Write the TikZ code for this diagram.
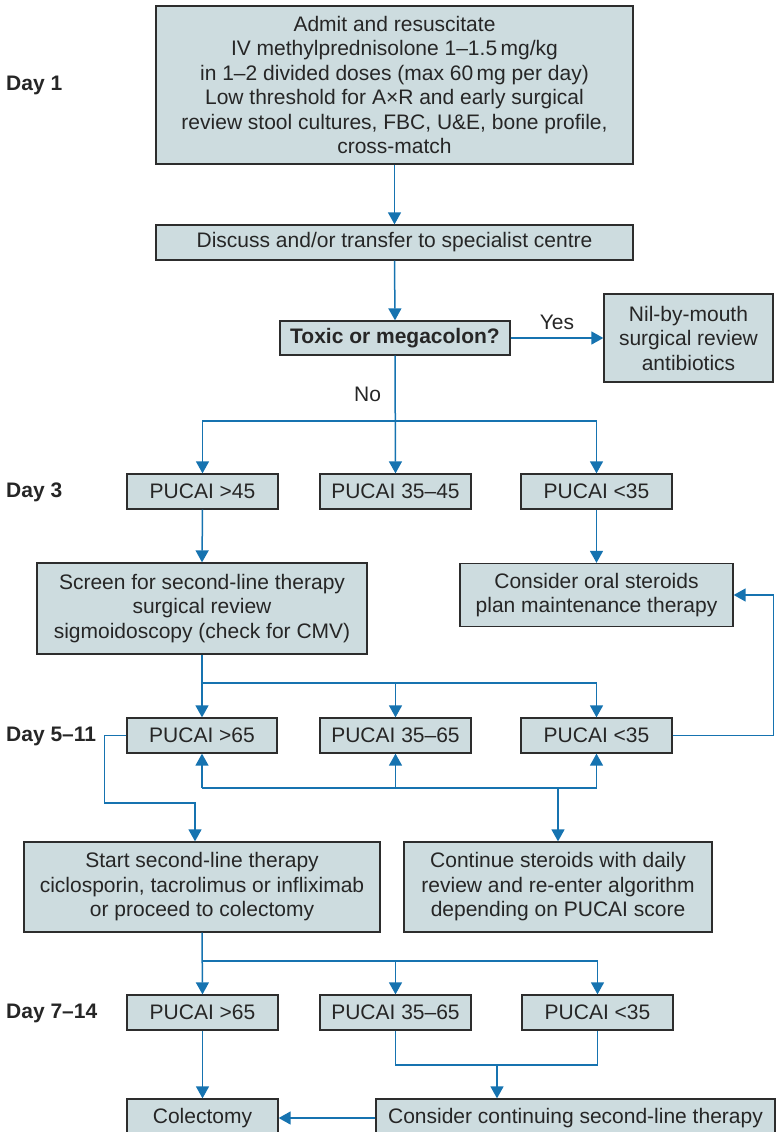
\documentclass[tikz,border=0pt]{standalone}
\usepackage{fontspec}
\setmainfont{Liberation Sans}
\usetikzlibrary{arrows.meta}
\definecolor{boxfill}{RGB}{205,220,223}
\definecolor{boxline}{RGB}{45,45,45}
\definecolor{flow}{RGB}{22,115,176}
\begin{document}
\begin{tikzpicture}[x=1pt,y=-1pt,
  every node/.style={font=\fontsize{21}{24.5}\selectfont, text=black!85},
  box/.style={draw=boxline, line width=1.3pt, fill=boxfill, align=center,
    inner sep=0pt, minimum width=#1},
  box/.default=151pt,
  daylabel/.style={anchor=west, inner sep=0pt, font=\fontsize{21}{24}\selectfont\bfseries},
  flowline/.style={draw=flow, line width=1.5pt},
  arr/.style={flowline, -{Triangle[length=12pt,width=13pt]}}]
\useasboundingbox (0,0) rectangle (777,1132);
\clip (0,0) rectangle (777,1132);

% day labels
\node[daylabel] (day1) at (6,85) {Day 1};
\node[daylabel] (day3) at (6,492) {Day 3};
\node[daylabel] (day5) at (6,736) {Day 5--11};
\node[daylabel] (day7) at (6,1013) {Day 7--14};

% admission
\node[box=477pt, minimum height=158pt] (admit) at (394.5,85)
  {Admit and resuscitate\\
   IV methylprednisolone 1--1.5\,mg/kg\\
   in 1--2 divided doses (max 60\,mg per day)\\
   Low threshold for A×R and early surgical\\
   review stool cultures, FBC, U\&E, bone profile,\\
   cross-match};
\node[box=477pt, minimum height=35pt] (discuss) at (394.5,242.5)
  {Discuss and/or transfer to specialist centre};
\node[box=230pt, minimum height=34pt, font=\fontsize{21}{24}\selectfont\bfseries] (toxic) at (395,338)
  {Toxic or megacolon?};
\node[box=169pt, minimum height=88pt] (nil) at (688.5,338)
  {Nil-by-mouth\\surgical review\\antibiotics};

% day 3
\node[box, minimum height=35pt] (d3a) at (202.5,491.5) {PUCAI >45};
\node[box, minimum height=35pt] (d3b) at (395.5,491.5) {PUCAI 35--45};
\node[box, minimum height=35pt] (d3c) at (596.5,491.5) {PUCAI <35};
\node[box=330pt, minimum height=91pt] (screen) at (202,608.5)
  {Screen for second-line therapy\\surgical review\\sigmoidoscopy (check for CMV)};
\node[box=273pt, minimum height=63pt] (oral) at (596.5,595)
  {Consider oral steroids\\plan maintenance therapy};

% day 5-11
\node[box=150pt, minimum height=35pt] (d5a) at (202,735.5) {PUCAI >65};
\node[box, minimum height=35pt] (d5b) at (395.5,735.5) {PUCAI 35--65};
\node[box, minimum height=35pt] (d5c) at (596.5,735.5) {PUCAI <35};
\node[box=356pt, minimum height=90pt] (start) at (202,887)
  {Start second-line therapy\\ciclosporin, tacrolimus or infliximab\\or proceed to colectomy};
\node[box=308pt, minimum height=90pt] (cont) at (558,887)
  {Continue steroids with daily\\review and re-enter algorithm\\depending on PUCAI score};

% day 7-14
\node[box, minimum height=35pt] (d7a) at (202.5,1012.5) {PUCAI >65};
\node[box, minimum height=35pt] (d7b) at (395.5,1012.5) {PUCAI 35--65};
\node[box, minimum height=35pt] (d7c) at (597.5,1012.5) {PUCAI <35};
\node[box=151pt, minimum height=38pt] (colect) at (202.5,1118) {Colectomy};
\node[box=399pt, minimum height=38pt] (consider) at (575.5,1118)
  {Consider continuing second-line therapy};

% junction points
\coordinate (j3) at (395,421);
\coordinate (j5) at (202,683);
\coordinate (fb) at (558,788);
\coordinate (s1) at (195,803);
\coordinate (j7) at (202,961);
\coordinate (m7) at (497,1065);

% connectors
\draw[arr] (admit.south) -- (discuss.north);
\draw[arr] (discuss.south) -- (toxic.north);
\draw[arr] (toxic.east) -- node[above=4pt, text=black!85] (yes) {Yes} (nil.west);
\draw[arr] (toxic.south) -- node[pos=0.33, left=10pt, text=black!85] (no) {No} (d3b.north);
\draw[arr] (j3) -| (d3a.north);
\draw[arr] (j3) -| (d3c.north);

\draw[arr] (d3a.south) -- (screen.north);
\draw[arr] (d3c.south) -- (oral.north);

\draw[arr] (screen.south) -- (d5a.north);
\draw[flowline] (j5) -| (d5c.north);
\draw[arr] (d5b.north |- j5) -- (d5b.north);
\draw[arr] (d5c.north |- j5) -- (d5c.north);

\draw[arr] (d5c.east) -- ++(101,0) |- (oral.east);

\draw[flowline] (d5a.south |- fb) -- (d5c.south |- fb);
\draw[arr] (d5a.south |- fb) -- (d5a.south);
\draw[arr] (d5b.south |- fb) -- (d5b.south);
\draw[arr] (d5c.south |- fb) -- (d5c.south);
\draw[arr] (fb) -- (cont.north);

\draw[arr] (d5a.west) -- ++(-22,0) |- (s1) -- (s1 |- start.north);

\draw[arr] (start.south) -- (d7a.north);
\draw[flowline] (j7) -| (d7c.north);
\draw[arr] (d7b.north |- j7) -- (d7b.north);
\draw[arr] (d7c.north |- j7) -- (d7c.north);

\draw[arr] (d7a.south) -- (colect.north);
\draw[flowline] (d7b.south) |- (m7) -| (d7c.south);
\draw[arr] (m7) -- (m7 |- consider.north);
\draw[arr] (consider.west) -- (colect.east);
\end{tikzpicture}
\end{document}
